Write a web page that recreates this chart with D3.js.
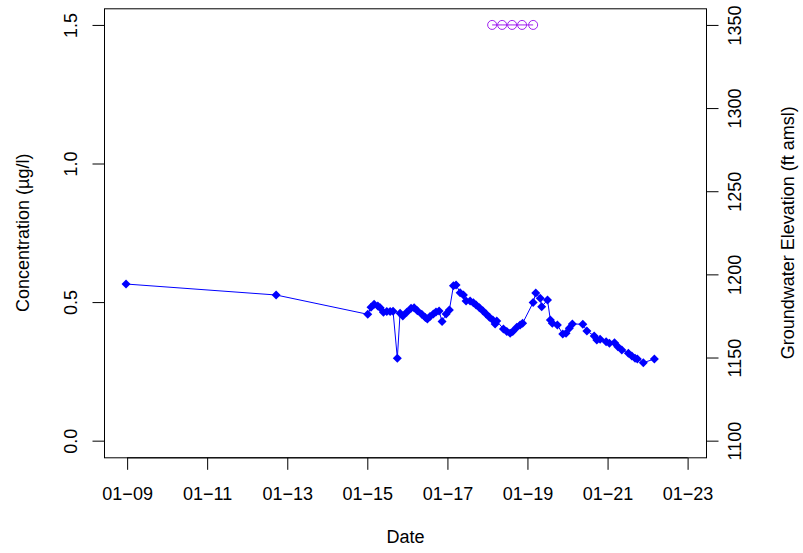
<!DOCTYPE html>
<html>
<head>
<meta charset="utf-8">
<script src="https://cdn.jsdelivr.net/npm/d3@7"></script>
<style>
  html, body { margin: 0; padding: 0; background: #fff; }
  svg { display: block; }
  text { font-family: "Liberation Sans", Arial, Helvetica, sans-serif; fill: #000; }
</style>
</head>
<body>
<svg id="chart" width="803" height="553"></svg>
<script>
// ---- Data ----
const elevDates = [
  "2008-12-22","2012-09-21","2015-01-05","2015-02-04","2015-03-04","2015-04-07","2015-04-28",
  "2015-05-28","2015-06-28","2015-07-28","2015-08-24","2015-10-02","2015-10-27","2015-11-21",
  "2015-12-27","2016-02-04","2016-03-03","2016-04-02","2016-05-12","2016-06-14","2016-07-02",
  "2016-07-26","2016-08-26","2016-09-19","2016-10-17","2016-11-13","2016-12-20","2017-01-19",
  "2017-02-25","2017-03-21","2017-04-27","2017-05-27","2017-06-20","2017-07-27","2017-08-26",
  "2017-09-20","2017-10-20","2017-11-20","2017-12-20","2018-01-19","2018-02-19","2018-03-12",
  "2018-03-27","2018-05-27","2018-06-27","2018-07-27","2018-08-20","2018-09-26","2018-10-26",
  "2018-11-18","2019-02-22","2019-03-18","2019-04-28","2019-05-11","2019-07-03","2019-07-29",
  "2019-08-16","2019-10-01","2019-11-19","2019-12-19","2020-01-18","2020-02-15","2020-05-20",
  "2020-06-26","2020-09-01","2020-09-25","2020-10-25","2020-12-19","2021-01-18","2021-03-05",
  "2021-04-05","2021-05-11","2021-07-10","2021-08-10","2021-09-09","2021-09-30","2021-11-23",
  "2022-03-04"
];
const elevValues = [
  1194.2,1187.6,1176.0,1180.2,1182.0,1181.0,1180.0,
  1177.2,1177.6,1177.6,1177.8,1149.6,1176.6,1175.0,
  1177.2,1179.6,1180.0,1178.2,1176.0,1174.0,1173.2,
  1174.6,1176.2,1177.4,1178.0,1171.6,1176.2,1178.6,
  1193.2,1193.6,1189.0,1187.6,1184.0,1184.0,1183.0,
  1181.6,1180.0,1178.2,1176.2,1174.2,1172.6,1170.2,
  1172.0,1167.2,1165.6,1164.6,1165.6,1168.2,1169.6,
  1170.6,1183.1,1188.8,1185.6,1180.6,1184.6,1172.6,
  1170.6,1169.6,1164.2,1164.6,1167.6,1170.2,1170.0,
  1166.0,1163.0,1160.6,1161.0,1159.5,1158.6,1158.9,
  1156.5,1154.5,1152.6,1150.9,1149.6,1149.1,1146.9,
  1149.1
];
const concDates = ["2018-02-13","2018-05-15","2018-08-14","2018-11-13","2019-02-22"];
const concValues = [1.5, 1.5, 1.5, 1.5, 1.5];

const concTicks = [0.0, 0.5, 1.0, 1.5];
const elevTicks = [1100, 1150, 1200, 1250, 1300, 1350];
const xTickYears = [2009, 2011, 2013, 2015, 2017, 2019, 2021, 2023];

const xLabel = "Date";
const yLeftLabel = "Concentration (\u00b5g/l)";
const yRightLabel = "Groundwater Elevation (ft amsl)";

// ---- Layout ----
const svg = d3.select("#chart");
const plot = { left: 104, right: 707, top: 8.3, bottom: 457.3 };
const parse = d3.timeParse("%Y-%m-%d");

const x = d3.scaleTime()
  .domain([new Date(2008, 5, 4), new Date(2023, 5, 27)])
  .range([plot.left, plot.right]);
const yC = d3.scaleLinear().domain([-0.06, 1.56]).range([plot.bottom, plot.top]);
const yE = d3.scaleLinear().domain([1090, 1360]).range([plot.bottom, plot.top]);

const fontSize = 18;
const ff = "Liberation Sans, Arial, sans-serif";

// Box
svg.append("rect")
  .attr("x", plot.left + 0.5).attr("y", plot.top + 0.5)
  .attr("width", plot.right - plot.left - 1).attr("height", plot.bottom - plot.top)
  .attr("fill", "none").attr("stroke", "#000").attr("stroke-width", 1);

// X axis
const xTicks = xTickYears.map(yr => new Date(yr, 0, 1));
const fmt = d3.timeFormat("%m-%y");
const xAxis = d3.axisBottom(x).tickValues(xTicks)
  .tickFormat(d => fmt(d).replace("-", "\u2212"))
  .tickSize(12).tickPadding(17).tickSizeOuter(0);
const gx = svg.append("g").attr("transform", `translate(0,${plot.bottom + 0.5})`).call(xAxis);
gx.select(".domain").attr("d", `M${x(xTicks[0])},0H${x(xTicks[xTicks.length-1])}`);
gx.selectAll("text").attr("font-size", fontSize).attr("font-family", ff);

// Left axis (rotated tick labels)
const yAxisL = d3.axisLeft(yC).tickValues(concTicks).tickFormat(d3.format(".1f"))
  .tickSize(12).tickSizeOuter(0);
const gl = svg.append("g").attr("transform", `translate(${plot.left + 0.5},0)`).call(yAxisL);
gl.select(".domain").attr("d", `M0,${yC(concTicks[0])}V${yC(concTicks[concTicks.length-1])}`);
gl.selectAll(".tick text")
  .attr("font-size", fontSize).attr("font-family", ff)
  .attr("x", null).attr("dy", null)
  .attr("text-anchor", "middle")
  .attr("transform", "translate(-27.5,0) rotate(-90)");

// Right axis
const yAxisR = d3.axisRight(yE).tickValues(elevTicks).tickFormat(d3.format("d"))
  .tickSize(12).tickSizeOuter(0);
const gr = svg.append("g").attr("transform", `translate(${plot.right - 0.5},0)`).call(yAxisR);
gr.select(".domain").attr("d", `M0,${yE(elevTicks[0])}V${yE(elevTicks[elevTicks.length-1])}`);
gr.selectAll(".tick text")
  .attr("font-size", fontSize).attr("font-family", ff)
  .attr("x", null).attr("dy", null)
  .attr("text-anchor", "middle")
  .attr("transform", "translate(34,0) rotate(-90)");

// Axis titles
svg.append("text").attr("x", (plot.left + plot.right) / 2).attr("y", 543)
  .attr("text-anchor", "middle").attr("font-size", fontSize).text(xLabel);
svg.append("text")
  .attr("transform", `translate(28.5,${(plot.top + plot.bottom) / 2}) rotate(-90)`)
  .attr("text-anchor", "middle").attr("font-size", fontSize).text(yLeftLabel);
svg.append("text")
  .attr("transform", `translate(793.5,${(plot.top + plot.bottom) / 2}) rotate(-90)`)
  .attr("text-anchor", "middle").attr("font-size", fontSize).text(yRightLabel);

// Elevation series (blue line + filled diamonds)
const elev = elevDates.map((d, i) => ({ date: parse(d), v: elevValues[i] }));
svg.append("path").datum(elev)
  .attr("fill", "none").attr("stroke", "#0000FF").attr("stroke-width", 1)
  .attr("d", d3.line().x(d => x(d.date)).y(d => yE(d.v)));
const dsz = 4.5;
svg.append("g").selectAll("path").data(elev).join("path")
  .attr("d", d => {
    const cx = x(d.date), cy = yE(d.v);
    return `M${cx},${cy - dsz}L${cx + dsz},${cy}L${cx},${cy + dsz}L${cx - dsz},${cy}Z`;
  })
  .attr("fill", "#0000FF");

// Concentration series (purple line + open circles)
const conc = concDates.map((d, i) => ({ date: parse(d), v: concValues[i] }));
svg.append("path").datum(conc)
  .attr("fill", "none").attr("stroke", "#A020F0").attr("stroke-width", 1)
  .attr("d", d3.line().x(d => x(d.date)).y(d => yC(d.v)));
svg.append("g").selectAll("circle").data(conc).join("circle")
  .attr("cx", d => x(d.date)).attr("cy", d => yC(d.v)).attr("r", 4.5)
  .attr("fill", "none").attr("stroke", "#A020F0").attr("stroke-width", 1);
</script>
</body>
</html>
